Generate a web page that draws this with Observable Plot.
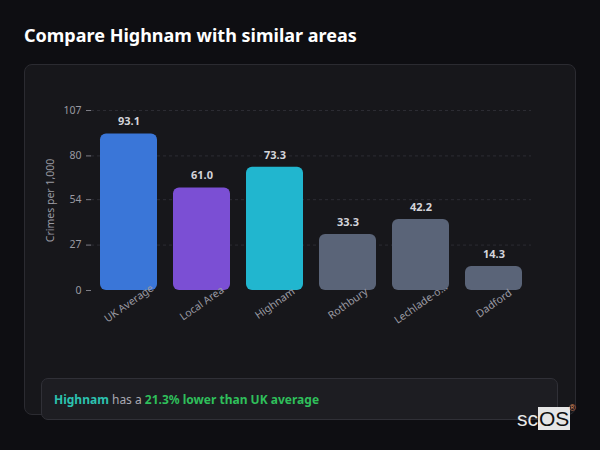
<!DOCTYPE html>
<html>
<head>
<meta charset="utf-8">
<script src="https://cdn.jsdelivr.net/npm/d3@7"></script>
<script src="https://cdn.jsdelivr.net/npm/@observablehq/plot@0.6"></script>
<style>
  html, body { margin: 0; padding: 0; background: #0e0e12; width: 600px; height: 450px; overflow: hidden; font-family: "Noto Sans", sans-serif; }
  #title { position: absolute; left: 24px; top: 23px; color: #ffffff; font-size: 18px; font-weight: 700; letter-spacing: 0; }
  #card { position: absolute; left: 24px; top: 64px; width: 550px; height: 349px; background: #17171b; border: 1px solid #2b2b31; border-radius: 8px; }
  #chart { position: absolute; left: 0; top: 64px; }
  #insight { position: absolute; left: 41px; top: 378px; width: 503px; height: 40px; background: #1d1d22; border: 1px solid #303037; border-radius: 7px; font-size: 12px; line-height: 42px; padding-left: 12px; box-sizing: content-box; color: #a9a9b1; }
  #insight .a { color: #2cc2b0; font-weight: 700; }
  #insight .b { color: #2fbf5b; font-weight: 700; }
  #logo { position: absolute; left: 517px; top: 408px; height: 22px; font-family: "Liberation Sans", Arial, sans-serif; font-size: 21px; line-height: 21px; color: #e8e8e8; }
  #logo .os { background: #e6e6e6; color: #111; padding: 0 1px; }
  #logo .r { position: absolute; left: 52px; top: -4px; font-size: 9px; line-height: 9px; color: #e09060; }
</style>
</head>
<body>
<div id="title">Compare Highnam with similar areas</div>
<div id="card"></div>
<div id="chart"></div>
<div id="insight"><span class="a">Highnam</span> has a <span class="b">21.3% lower than UK average</span></div>
<div id="logo">sc<span class="os">OS</span><span class="r">®</span></div>
<script>
const areas = ["UK Average", "Local Area", "Highnam", "Rothbury", "Lechlade-on-Thames", "Dadford"];
const crimesPer1000 = [93.1, 61.0, 73.3, 33.3, 42.2, 14.3];
const barColors = ["#3a76d8", "#7b4fd4", "#21b6cf", "#5a6478", "#5a6478", "#5a6478"];
const yTicks = [0, 27, 54, 80, 107];
const yMax = 107;

const data = areas.map((name, i) => ({name, value: crimesPer1000[i]}));
const shortName = d => d.length > 12 ? d.slice(0, 10) + "..." : d;

const chart = Plot.plot({
  width: 600,
  height: 280,
  marginTop: 46,
  marginBottom: 54,
  marginLeft: 91,
  marginRight: 69,
  style: {background: "transparent", fontFamily: "Noto Sans, sans-serif", overflow: "visible"},
  x: {domain: areas, paddingInner: 0.22, paddingOuter: 0.11, axis: null},
  y: {domain: [0, yMax], axis: null},
  color: {domain: areas, range: barColors},
  marks: [
    Plot.ruleY(yTicks.filter(t => t > 0), {stroke: "#2c2c33", strokeDasharray: "3,3", strokeWidth: 1}),
    Plot.axisY({ticks: yTicks, tickFormat: d => String(d), tickSize: 5, tickPadding: 5, stroke: "#7d7d86", color: "#9a9aa2", fontSize: 10.5, label: null}),
    Plot.text(["Crimes per 1,000"], {frameAnchor: "left", rotate: -90, dx: -41, textAnchor: "middle", fill: "#9a9aa2", fontSize: 10.5}),
    Plot.barY(data, {x: "name", y: "value", fill: "name", rx: 6}),
    Plot.text(data, {x: "name", y: "value", text: d => d.value.toFixed(1), dy: -12, fill: "#d4d4da", fontWeight: "bold", fontSize: 11}),
    Plot.text(areas, {x: d => d, y: 0, text: shortName, dy: 13, rotate: -35, textAnchor: "middle", fill: "#9a9aa3", fontSize: 10.5})
  ]
});
document.getElementById("chart").appendChild(chart);
</script>
</body>
</html>
